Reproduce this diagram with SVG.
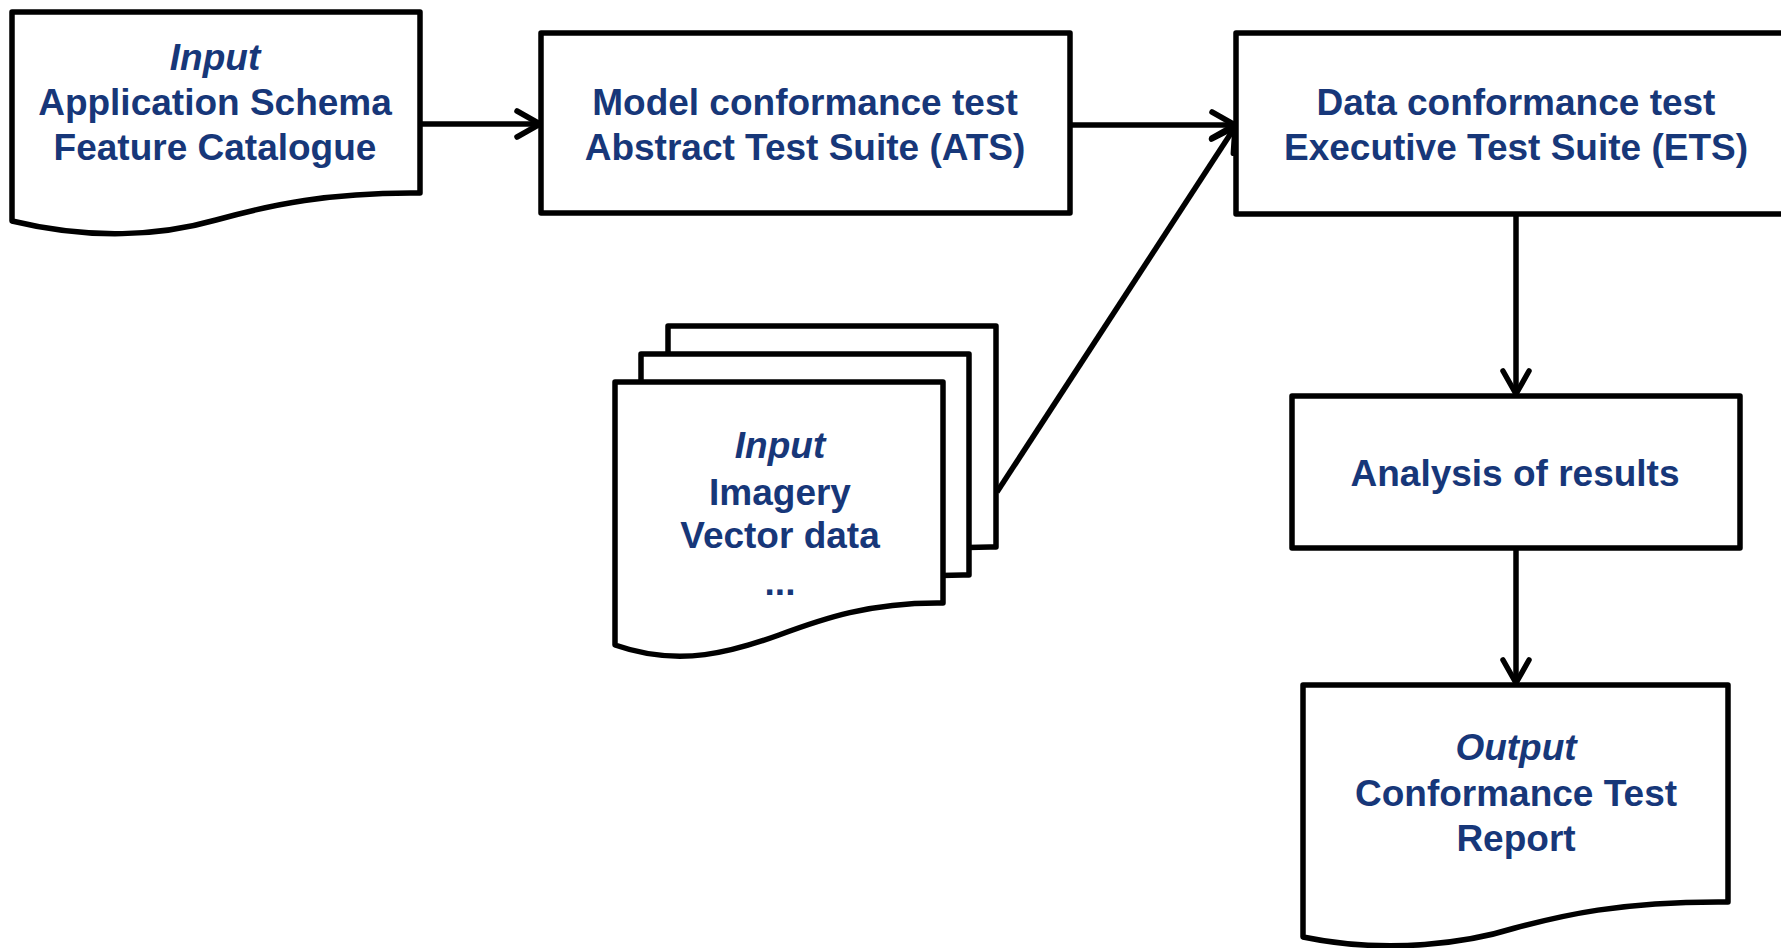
<svg xmlns="http://www.w3.org/2000/svg" width="1781" height="948" viewBox="0 0 1781 948">
<style>
.shape{fill:#fff;stroke:#000;stroke-width:5.5;stroke-linejoin:round}
.conn{fill:none;stroke:#000;stroke-width:5.5}
text{font-family:"Liberation Sans",Arial,sans-serif;font-weight:bold;font-size:37px;fill:#173779;text-anchor:middle}
.it{font-style:italic}
</style>
<defs>
<marker id="arr" markerUnits="userSpaceOnUse" viewBox="0 0 28 30" refX="25" refY="15" markerWidth="28" markerHeight="30" orient="auto" overflow="visible">
<path d="M2,2 L25,15 L2,28" fill="none" stroke="#000" stroke-width="5.5" stroke-linecap="round" stroke-linejoin="round"/>
</marker>
</defs>
<rect width="1781" height="948" fill="#fff"/>
<g id="connectors">
<line class="conn" x1="420" y1="124" x2="540" y2="124" marker-end="url(#arr)"/>
<line class="conn" x1="1070" y1="125" x2="1235" y2="125" marker-end="url(#arr)"/>
<line class="conn" x1="997" y1="492" x2="1235" y2="127" marker-end="url(#arr)"/>
<line class="conn" x1="1516" y1="214" x2="1516" y2="394" marker-end="url(#arr)"/>
<line class="conn" x1="1516" y1="548" x2="1516" y2="683" marker-end="url(#arr)"/>
</g>
<g id="input-schema">
<path class="shape" d="M12,12 H420 V193 C330,192 270,205 216,220 C160,236 90,240 12,221 Z"/>
<text class="it" x="215" y="70">Input</text>
<text x="215" y="115">Application Schema</text>
<text x="215" y="160">Feature Catalogue</text>
</g>
<g id="model-test">
<rect class="shape" x="541" y="33" width="529" height="180"/>
<text x="805" y="115">Model conformance test</text>
<text x="805" y="160">Abstract Test Suite (ATS)</text>
</g>
<g id="data-test">
<rect class="shape" x="1236" y="33" width="560" height="181"/>
<text x="1516" y="115">Data conformance test</text>
<text x="1516" y="160">Executive Test Suite (ETS)</text>
</g>
<g id="input-data">
<path class="shape" transform="translate(53,-56)" d="M615,382 H943 V603 C870,602 822,619 779,635 C735,651 680,668 615,645 Z"/>
<path class="shape" transform="translate(26,-28)" d="M615,382 H943 V603 C870,602 822,619 779,635 C735,651 680,668 615,645 Z"/>
<path class="shape" d="M615,382 H943 V603 C870,602 822,619 779,635 C735,651 680,668 615,645 Z"/>
<text class="it" x="780" y="458">Input</text>
<text x="780" y="505">Imagery</text>
<text x="780" y="548">Vector data</text>
<text x="780" y="595">...</text>
</g>
<g id="analysis">
<rect class="shape" x="1292" y="396" width="448" height="152"/>
<text x="1515" y="486">Analysis of results</text>
</g>
<g id="output-report">
<path class="shape" d="M1303,685 H1728 V902 C1620,901 1560,916 1515,928 C1470,942 1390,955 1303,937 Z"/>
<text class="it" x="1516" y="760">Output</text>
<text x="1516" y="806">Conformance Test</text>
<text x="1516" y="851">Report</text>
</g>
</svg>
